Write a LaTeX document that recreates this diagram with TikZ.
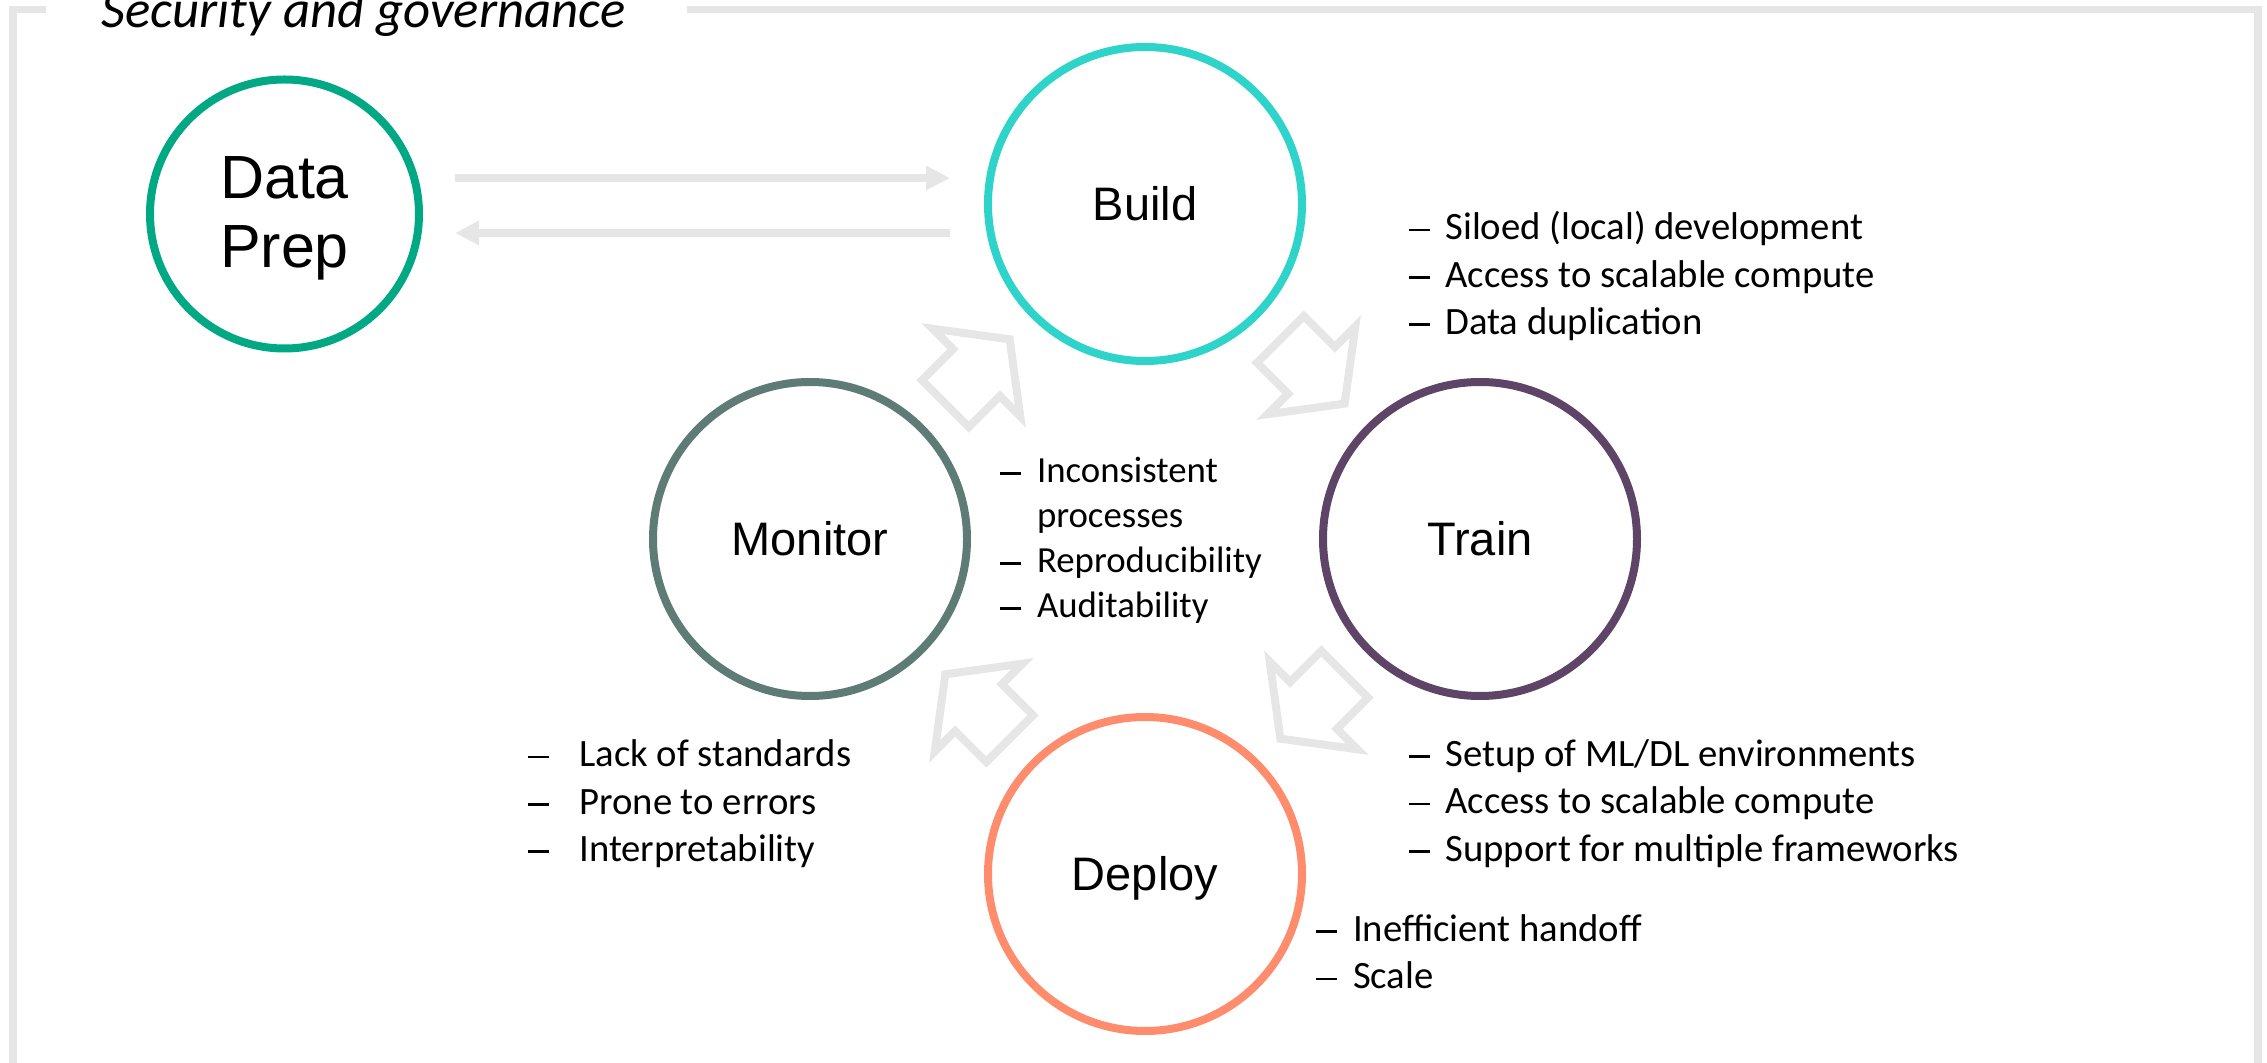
\documentclass[tikz,border=0pt]{standalone}
\usepackage{fontspec}
\setmainfont{Carlito}
\newfontfamily\labfont{Liberation Sans}
\usetikzlibrary{arrows.meta,calc}
\definecolor{cdp}{HTML}{00A884}
\definecolor{cbuild}{HTML}{2ED3C9}
\definecolor{cmon}{HTML}{5F7B76}
\definecolor{ctrain}{HTML}{5E4568}
\definecolor{cdep}{HTML}{FF8D6D}
\definecolor{lgray}{HTML}{E6E6E6}
\newcommand\mydsh[1]{\makebox[#1][l]{\rule[0.22em]{10.5pt}{1.4pt}}}
\begin{document}
\begin{tikzpicture}[x=0.5pt,y=-0.5pt,
  circ/.style={circle, draw=#1, line width=4pt, minimum size=157pt, inner sep=0pt},
  lbl/.style={font=\labfont\fontsize{23.5}{28}\selectfont, text height=16.8pt, text depth=0pt, inner sep=0pt},
  flow/.style={draw=lgray, line width=4pt, -{Triangle[length=12pt,width=11.5pt]}},
  blk/.style={draw=lgray, line width=4pt, line join=miter},
  lst/.style={font=\fontsize{19.35}{23.6}\selectfont, inner sep=0pt, anchor=base west},
  frame/.style={draw=lgray, line width=3.75pt}]
\useasboundingbox (0,0) rectangle (2267,1063);
% frame
\draw[frame] (46,9.7) -- (13,9.7) -- (13,1066.5) -- (2258,1066.5) -- (2258,9.7) -- (687,9.7);
\node[font=\itshape\fontsize{26.4}{30}\selectfont, anchor=base west, inner sep=0pt] (title) at (101,28) {Security and governance};
% circles
\node[circ=cdp, minimum size=134.5pt] (dp) at (284.5,214) {};
\node[circ=cbuild] (build) at (1145,204) {};
\node[circ=cmon] (monitor) at (810,539) {};
\node[circ=ctrain] (train) at (1480,539) {};
\node[circ=cdep] (deploy) at (1145,874) {};
% labels
\node[font=\labfont\fontsize{30.5}{34.5}\selectfont, align=center, inner sep=0pt] (dpl) at ($(dp)+(0,4)$) {Data\\Prep};
\node[lbl] (buildl) at (build) {Build};
\node[lbl] (monitorl) at (monitor) {Monitor};
\node[lbl] (trainl) at (train) {Train};
\node[lbl] (deployl) at (deploy) {Deploy};
% straight arrows
\draw[flow] ($(dp.east)+(32,-36)$) -- ($(build.west)+(-34,-26)$);
\draw[flow] ($(build.west)+(-34,29)$) -- ($(dp.east)+(32,19)$);
% block arrows
\coordinate (m1) at ($(build)!0.5!(train)$);
\coordinate (m2) at ($(train)!0.5!(deploy)$);
\coordinate (m3) at ($(deploy)!0.5!(monitor)$);
\coordinate (m4) at ($(monitor)!0.5!(build)$);
\foreach \m/\r in {m1/-45, m2/-135, m3/135, m4/45}{
  \draw[blk, shift={(\m)}, rotate=\r] (-45.5,-33) -- (-1.5,-33) -- (-1.5,-62) -- (45.5,0) -- (-1.5,62) -- (-1.5,33) -- (-45.5,33) -- cycle;
}
% lists
\node[lst] (buildtxt) at (1409,240) {\begin{tabular}[t]{@{}l@{}}
\mydsh{18pt}Siloed (local) development\\
\mydsh{18pt}Access to scalable compute\\
\mydsh{18pt}Data duplication\end{tabular}};
\node[lst, font=\fontsize{18.4}{22.5}\selectfont] (midtxt) at (1000,483) {\begin{tabular}[t]{@{}l@{}}
\mydsh{18.3pt}Inconsistent\\
\hspace*{18.3pt}processes\\
\mydsh{18.3pt}Reproducibility\\
\mydsh{18.3pt}Auditability\end{tabular}};
\node[lst] (traintxt) at (1409,766.7) {\begin{tabular}[t]{@{}l@{}}
\mydsh{18pt}Setup of ML/DL environments\\
\mydsh{18pt}Access to scalable compute\\
\mydsh{18pt}Support for multiple frameworks\end{tabular}};
\node[lst] (deploytxt) at (1316,941.7) {\begin{tabular}[t]{@{}l@{}}
\mydsh{18.3pt}Inefficient handoff\\
\mydsh{18.3pt}Scale\end{tabular}};
\node[lst] (montxt) at (528,767) {\begin{tabular}[t]{@{}l@{}}
\mydsh{25.5pt}Lack of standards\\
\mydsh{25.5pt}Prone to errors\\
\mydsh{25.5pt}Interpretability\end{tabular}};
\end{tikzpicture}
\end{document}
